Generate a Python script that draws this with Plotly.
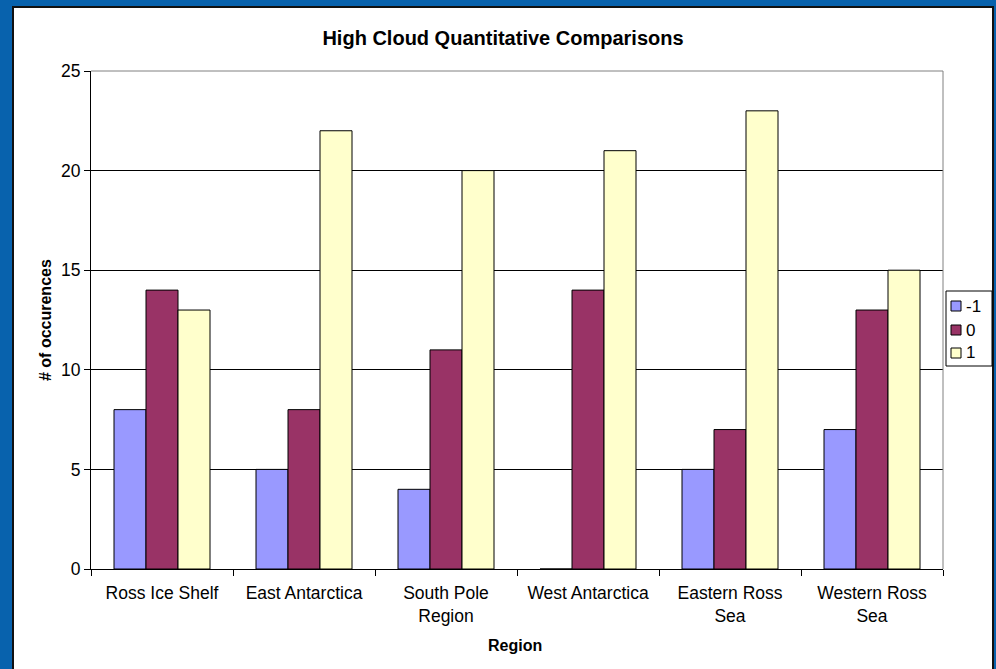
import plotly.graph_objects as go

categories = ["Ross Ice Shelf", "East Antarctica", "South Pole<br>Region",
              "West Antarctica", "Eastern Ross<br>Sea", "Western Ross<br>Sea"]
series_names = ["-1", "0", "1"]
values_m1 = [8, 5, 4, 0, 5, 7]
values_0 = [14, 8, 11, 14, 7, 13]
values_1 = [13, 22, 20, 21, 23, 15]
colors = ["#9999FF", "#993366", "#FFFFCC"]
y_ticks = [0, 5, 10, 15, 20, 25]

FONT = "Liberation Sans, Arial, sans-serif"

fig = go.Figure()
for name, vals, col in zip(series_names, [values_m1, values_0, values_1], colors):
    fig.add_trace(go.Bar(
        x=categories, y=vals, name=name,
        marker=dict(color=col, line=dict(color="black", width=1)),
    ))

W, H = 996, 669
L, R, T, B = 91, 53, 71, 100
pw, ph = W - L - R, H - T - B

def px_x(p):
    return (p - L) / pw

def px_y(p):
    return (H - B - p) / ph

shapes = [
    dict(type="rect", xref="paper", yref="paper", layer="below",
         x0=px_x(13), x1=px_x(993), y0=px_y(7), y1=px_y(700),
         fillcolor="white", line=dict(color="#111111", width=2)),
    dict(type="line", xref="paper", yref="paper", x0=0, x1=1, y0=1, y1=1,
         line=dict(color="#808080", width=1)),
    dict(type="line", xref="paper", yref="paper", x0=1, x1=1, y0=0, y1=1,
         line=dict(color="#808080", width=1)),
    # legend box
    dict(type="rect", xref="paper", yref="paper",
         x0=px_x(946), x1=px_x(992), y0=px_y(366), y1=px_y(291),
         fillcolor="white", line=dict(color="black", width=1)),
]
annotations = [
    dict(text="<b># of occurences</b>", xref="paper", yref="paper",
         x=px_x(45), y=0.5, xanchor="center", yanchor="middle",
         textangle=-90, showarrow=False, font=dict(size=16)),
    dict(text="<b>Region</b>", xref="paper", yref="paper",
         x=px_x(515), y=px_y(645), xanchor="center", yanchor="middle",
         showarrow=False, font=dict(size=16)),
]
legend_y = [306, 330, 353]
for name, col, cy in zip(series_names, colors, legend_y):
    shapes.append(dict(type="rect", xref="paper", yref="paper",
                       x0=px_x(951), x1=px_x(961), y0=px_y(cy + 5), y1=px_y(cy - 5),
                       fillcolor=col, line=dict(color="black", width=1)))
    annotations.append(dict(text=name, xref="paper", yref="paper",
                            x=px_x(964), y=px_y(cy), xanchor="left", yanchor="middle",
                            showarrow=False, font=dict(size=17)))

fig.update_layout(
    width=W, height=H,
    margin=dict(l=L, r=R, t=T, b=B, autoexpand=False),
    paper_bgcolor="#0862ad",
    plot_bgcolor="#C0C0C0",
    barmode="group",
    bargap=0.324,
    bargroupgap=0,
    showlegend=False,
    font=dict(family=FONT, size=17.5, color="black"),
    title=dict(text="<b>High Cloud Quantitative Comparisons</b>",
               x=503 / W, xanchor="center", y=1 - 38 / H, yanchor="middle",
               font=dict(size=20, color="black", family=FONT)),
    xaxis=dict(showline=True, linecolor="black", linewidth=1,
               ticks="outside", tickson="boundaries", ticklen=6,
               tickcolor="black", showgrid=False, fixedrange=True,
               ticklabelstandoff=8),
    yaxis=dict(range=[0, 25], tickvals=y_ticks, showline=True,
               linecolor="black", linewidth=1, ticks="outside", ticklen=6,
               tickcolor="black", showgrid=True, gridcolor="black",
               gridwidth=1, zeroline=False),
    shapes=shapes,
    annotations=annotations,
)

fig.write_html("out.html")
